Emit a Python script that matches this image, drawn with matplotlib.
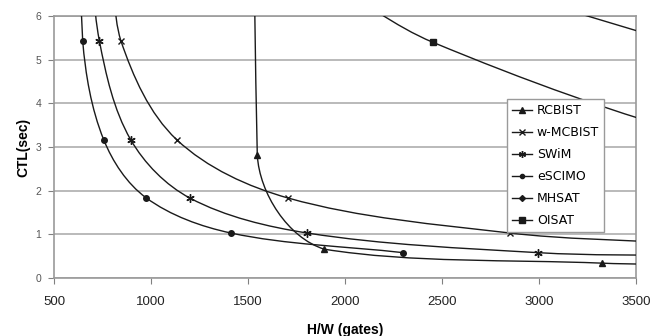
import numpy as np
import matplotlib.pyplot as plt
from matplotlib.path import Path
from matplotlib.patches import PathPatch
from matplotlib.lines import Line2D

# data (points above y=6 / right of x=3500 are off-chart)
rcbist_x = [1505, 1548, 1893, 3325, 3800]
rcbist_y = [30, 2.81, 0.66, 0.34, 0.31]
wmcbist_x = [800, 845, 1132, 1708, 2851, 3700]
wmcbist_y = [7.5, 5.43, 3.17, 1.83, 1.03, 0.80]
swim_x = [685, 734, 895, 1201, 1806, 2997, 3800]
swim_y = [8, 5.43, 3.17, 1.83, 1.03, 0.58, 0.51]
escimo_x = [630, 648, 756, 974, 1412, 2300]
escimo_y = [10, 5.43, 3.17, 1.84, 1.03, 0.58]
mhsat_x = [2950, 4300]
mhsat_y = [6.4, 4.6]
oisat_x = [1900, 2452, 3900, 5000]
oisat_y = [6.85, 5.40, 3.16, 2.41]

names = ['RCBIST', 'w-MCBIST', 'SWiM', 'eSCIMO', 'MHSAT', 'OISAT']
xs = [rcbist_x, wmcbist_x, swim_x, escimo_x, mhsat_x, oisat_x]
ys = [rcbist_y, wmcbist_y, swim_y, escimo_y, mhsat_y, oisat_y]
markers = ['^', 'x', (6, 2, 0), 'o', 'D', 's']
msizes = [5, 5, 6, 4, 4, 5]

# pixels per data unit, only used so the smoothing behaves like Excel's
SX = 582 / 3000
SY = 261 / 6


def smooth_path(x, y, k=0.33):
    p = np.column_stack([np.asarray(x, float) * SX, np.asarray(y, float) * SY])
    n = len(p)
    verts = [p[0]]
    codes = [Path.MOVETO]
    for i in range(n - 1):
        a, b = p[i], p[i + 1]
        seg = np.hypot(*(b - a))
        ta = b - a if i == 0 else b - p[i - 1]
        tb = b - a if i + 1 == n - 1 else p[i + 2] - a
        c1 = a + ta / np.hypot(*ta) * seg * k
        c2 = b - tb / np.hypot(*tb) * seg * k
        # keep control points inside the segment box (no overshoot)
        lo, hi = np.minimum(a, b), np.maximum(a, b)
        c1 = np.clip(c1, lo, hi)
        c2 = np.clip(c2, lo, hi)
        verts += [c1, c2, b]
        codes += [Path.CURVE4] * 3
    verts = np.array(verts) / [SX, SY]
    return Path(verts, codes)


fig = plt.figure(figsize=(6.6, 3.36), dpi=100)
ax = fig.add_axes([0.0818, 0.1726, 0.8818, 0.7798])

for x, y, m, ms in zip(xs, ys, markers, msizes):
    ax.add_patch(PathPatch(smooth_path(x, y), fill=False, ec='#1a1a1a', lw=1.0, zorder=3))
    ax.plot(x, y, ls='none', marker=m, ms=ms, color='#1a1a1a', mew=1.0, zorder=4)

ax.set_xlim(500, 3500)
ax.set_ylim(0, 6)
ax.set_xticks(range(500, 3501, 500))
ax.set_yticks(range(0, 7))
ax.grid(axis='y', color='#b4b4b4', lw=1.3)
ax.set_axisbelow(True)
for s in ax.spines.values():
    s.set_color('#9a9a9a')
    s.set_linewidth(1.2)

ax.tick_params(axis='x', direction='out', length=4, color='#808080', pad=9,
               labelsize=9.5, labelcolor='#222222')
ax.tick_params(axis='y', direction='out', length=4, color='#808080', pad=5,
               labelsize=7.5, labelcolor='#555555')
for lab in ax.get_xticklabels():
    lab.set_family('Liberation Sans')
for lab in ax.get_yticklabels():
    lab.set_family('Liberation Sans')

ax.set_xlabel('H/W (gates)', fontsize=10, fontweight='bold', family='Liberation Sans')
ax.xaxis.set_label_coords(0.5, -0.17)
ax.set_ylabel('CTL(sec)', fontsize=10, fontweight='bold', family='Liberation Sans')
ax.yaxis.set_label_coords(-0.041, 0.5)

handles = [Line2D([], [], color='#1a1a1a', lw=1.0, marker=m, ms=ms - 1)
           for m, ms in zip(markers, msizes)]
leg = ax.legend(handles, names, loc='upper left', bbox_to_anchor=(0.778, 0.682),
                fancybox=False, framealpha=1, edgecolor='#9a9a9a', fontsize=9,
                handlelength=1.6, handletextpad=0.4, labelspacing=0.72,
                borderpad=0.4, borderaxespad=0)
leg.get_frame().set_linewidth(1.0)
leg.set_zorder(5)

fig.savefig('out.png', dpi=100)
